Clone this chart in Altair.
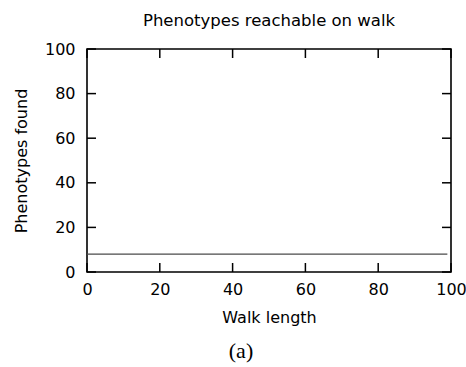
import altair as alt
import pandas as pd

# ---- data ----
walk_length = [0, 99]
phenotypes_found = [8, 8]
x_ticks = [0, 20, 40, 60, 80, 100]
y_ticks = [0, 20, 40, 60, 80, 100]
title_text = "Phenotypes reachable on walk"
x_title = "Walk length"
y_title = "Phenotypes found"
caption = ["(a)"]

W, H = 364, 223
FONT = "DejaVu Sans"
TICK = 9

line_df = pd.DataFrame({"walk": walk_length, "found": phenotypes_found})
xt = pd.DataFrame({"v": x_ticks})
yt = pd.DataFrame({"v": y_ticks})
cap_df = pd.DataFrame({"t": caption})

xscale = alt.Scale(domain=[0, 100], nice=False, zero=False)
yscale = alt.Scale(domain=[0, 100], nice=False, zero=False)

x_axis = alt.Axis(values=x_ticks, ticks=False, domain=False, grid=False,
                  labelFont=FONT, labelFontSize=16, labelColor="black",
                  labelPadding=9, labelFlush=False, labelOverlap=False,
                  title=x_title, titleFont=FONT, titleFontSize=16,
                  titleFontWeight="normal", titleColor="black", titlePadding=12)
y_axis = alt.Axis(values=y_ticks, ticks=False, domain=False, grid=False,
                  labelFont=FONT, labelFontSize=16, labelColor="black",
                  labelPadding=12, labelFlush=False, labelOverlap=False,
                  title=y_title, titleFont=FONT, titleFontSize=16,
                  titleFontWeight="normal", titleColor="black", titlePadding=15)

line = alt.Chart(line_df).mark_line(color="#4a4a4a", strokeWidth=1.2).encode(
    x=alt.X("walk:Q", scale=xscale, axis=x_axis),
    y=alt.Y("found:Q", scale=yscale, axis=y_axis),
)

rule_style = dict(color="black", strokeWidth=1.5)
bottom_ticks = alt.Chart(xt).mark_rule(**rule_style).encode(
    x=alt.X("v:Q", scale=xscale, axis=x_axis), y=alt.value(H), y2=alt.value(H - TICK))
top_ticks = alt.Chart(xt).mark_rule(**rule_style).encode(
    x=alt.X("v:Q", scale=xscale, axis=x_axis), y=alt.value(0), y2=alt.value(TICK))
left_ticks = alt.Chart(yt).mark_rule(**rule_style).encode(
    y=alt.Y("v:Q", scale=yscale, axis=y_axis), x=alt.value(0), x2=alt.value(TICK))
right_ticks = alt.Chart(yt).mark_rule(**rule_style).encode(
    y=alt.Y("v:Q", scale=yscale, axis=y_axis), x=alt.value(W), x2=alt.value(W - TICK))

cap = alt.Chart(cap_df).mark_text(font="Liberation Serif", fontSize=22, color="black",
                                  baseline="middle", align="center").encode(
    text="t:N", x=alt.value(154), y=alt.value(302))

chart = alt.layer(line, bottom_ticks, top_ticks, left_ticks, right_ticks, cap).properties(
    width=W, height=H,
    title=alt.TitleParams(title_text, font=FONT, fontSize=16.5, fontWeight="normal",
                          color="black", anchor="middle", offset=12),
    autosize=alt.AutoSizeParams(type="none"),
    padding={"left": 87, "top": 49, "right": 15, "bottom": 95},
).configure_view(stroke="black", strokeWidth=1.6)

chart.save("out.html", embed_options={"renderer": "svg", "actions": False})
